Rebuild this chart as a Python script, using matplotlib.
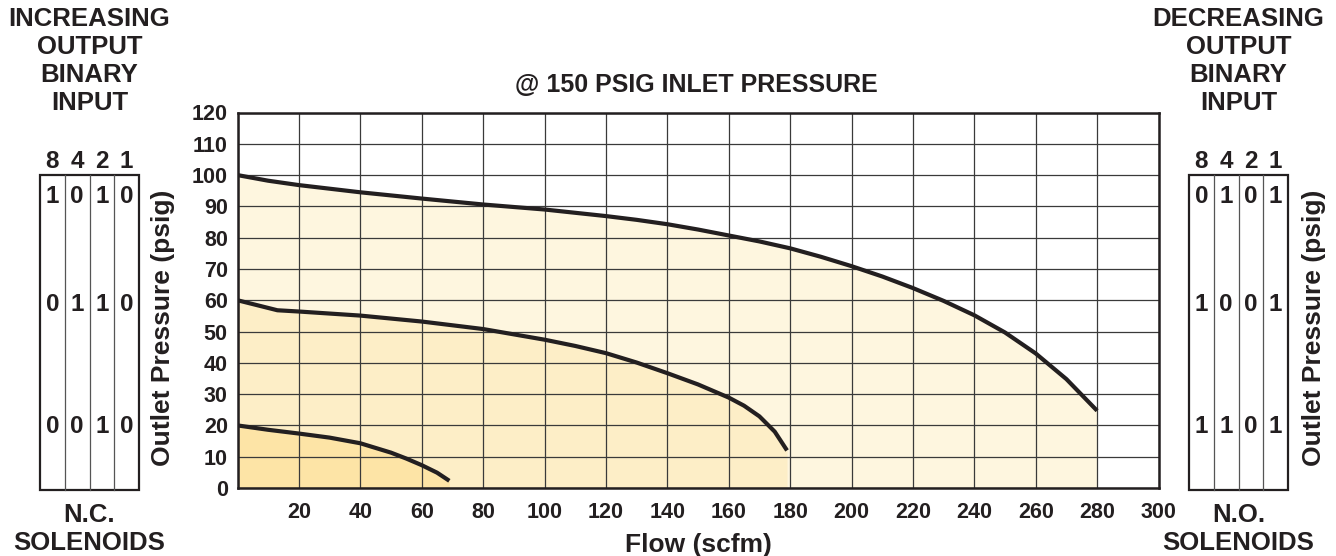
import matplotlib
matplotlib.use('Agg')
import matplotlib.pyplot as plt
from matplotlib.patches import Rectangle

# --- data ---
top_x = [0, 10, 20, 40, 60, 80, 100, 120, 130, 140, 150, 160, 170, 180, 190, 200,
         210, 220, 230, 240, 250, 260, 270, 280]
top_y = [100, 98.2, 96.8, 94.5, 92.5, 90.6, 89.0, 86.9, 85.7, 84.3, 82.6, 80.7,
         78.8, 76.6, 73.9, 70.9, 67.6, 63.9, 59.8, 55.2, 49.7, 43.0, 34.8, 24.7]

mid_x = [0, 13, 20, 40, 60, 80, 100, 110, 120, 130, 140, 150, 160, 165, 170, 175, 179]
mid_y = [60, 56.8, 56.4, 55.1, 53.2, 50.8, 47.4, 45.4, 43.1, 40.1, 36.7, 33.1, 28.9,
         26.3, 22.9, 18.0, 12.0]

bot_x = [0, 10, 20, 30, 40, 50, 55, 60, 65, 69]
bot_y = [20, 18.6, 17.4, 16.1, 14.3, 11.3, 9.4, 7.3, 4.9, 2.3]

x_ticks = list(range(0, 301, 20))
y_ticks = list(range(0, 121, 10))

bits = ['8', '4', '2', '1']
row_levels = [93, 58.5, 19.5]
nc_rows = [['1', '0', '1', '0'], ['0', '1', '1', '0'], ['0', '0', '1', '0']]
no_rows = [['0', '1', '0', '1'], ['1', '0', '0', '1'], ['1', '1', '0', '1']]

left_head = ['INCREASING', 'OUTPUT', 'BINARY', 'INPUT']
right_head = ['DECREASING', 'OUTPUT', 'BINARY', 'INPUT']

INK = '#231f20'
FONT = 'Liberation Sans'
W, H = 1336, 556

plt.rcParams['font.family'] = FONT
plt.rcParams['font.weight'] = 'bold'

fig = plt.figure(figsize=(W / 100, H / 100), dpi=100)
fig.patch.set_facecolor('white')


def fx(px):
    return px / W


def fy(py):
    return 1 - py / H


# main chart
ax = fig.add_axes([fx(237.5), fy(488), (1158.5 - 237.5) / W, (488 - 112.5) / H])
ax.fill_between(top_x, top_y, 0, color='#fef6df', lw=0)
ax.fill_between(mid_x, mid_y, 0, color='#fdeec7', lw=0)
ax.fill_between(bot_x, bot_y, 0, color='#fde4a6', lw=0)
for xs, ys in [(top_x, top_y), (mid_x, mid_y), (bot_x, bot_y)]:
    ax.plot(xs, ys, color=INK, lw=3, solid_capstyle='butt',
            solid_joinstyle='round', zorder=3)

ax.set_xlim(0, 300)
ax.set_ylim(0, 120)
ax.set_xticks(x_ticks)
ax.set_xticklabels(['' if v == 0 else str(v) for v in x_ticks])
ax.set_yticks(y_ticks)
ax.tick_params(length=0, labelsize=15.5, colors=INK)
ax.tick_params(axis='x', pad=10)
ax.tick_params(axis='y', pad=7)
ax.grid(True, color='#3a3a3a', lw=0.9)
for sp in ax.spines.values():
    sp.set_color(INK)
    sp.set_linewidth(1.8)

fig.text(fx(696), fy(85), '@ 150 PSIG INLET PRESSURE', ha='center', va='center',
         fontsize=18, color=INK)
fig.text(fx(698), fy(545), 'Flow (scfm)', ha='center', va='center',
         fontsize=19, color=INK)
fig.text(fx(163), fy(328), 'Outlet Pressure (psig)', rotation=90,
         ha='center', va='center', fontsize=19, color=INK)
fig.text(fx(1314), fy(328), 'Outlet Pressure (psig)', rotation=90,
         ha='center', va='center', fontsize=19, color=INK)


# binary input tables
def draw_table(left_px, rows, head, foot):
    tab = fig.add_axes([fx(left_px), fy(488), 99 / W, (488 - 112.5) / H])
    tab.set_xlim(0, 4)
    tab.set_ylim(0, 120)
    tab.axis('off')
    tab.add_patch(Rectangle((0, -0.5), 4, 100.5, fill=False, ec=INK, lw=1.6,
                            clip_on=False))
    for c in range(1, 4):
        tab.plot([c, c], [-0.5, 100], color='#555555', lw=0.9, clip_on=False)
    for c, b in enumerate(bits):
        tab.text(c + 0.5, 104.5, b, ha='center', va='center', fontsize=17.5,
                 color=INK, clip_on=False)
    for lvl, row in zip(row_levels, rows):
        for c, v in enumerate(row):
            tab.text(c + 0.5, lvl, v, ha='center', va='center', fontsize=17.5,
                     color=INK)
    cx = left_px + 49.5
    for i, line in enumerate(head):
        fig.text(fx(cx), fy(19 + 28 * i), line, ha='center', va='center',
                 fontsize=18.5, color=INK)
    for i, line in enumerate(foot):
        fig.text(fx(cx), fy(515 + 28 * i), line, ha='center', va='center',
                 fontsize=18.5, color=INK)


draw_table(40, nc_rows, left_head, ['N.C.', 'SOLENOIDS'])
draw_table(1189, no_rows, right_head, ['N.O.', 'SOLENOIDS'])

fig.savefig('out.png', dpi=100, facecolor='white')
